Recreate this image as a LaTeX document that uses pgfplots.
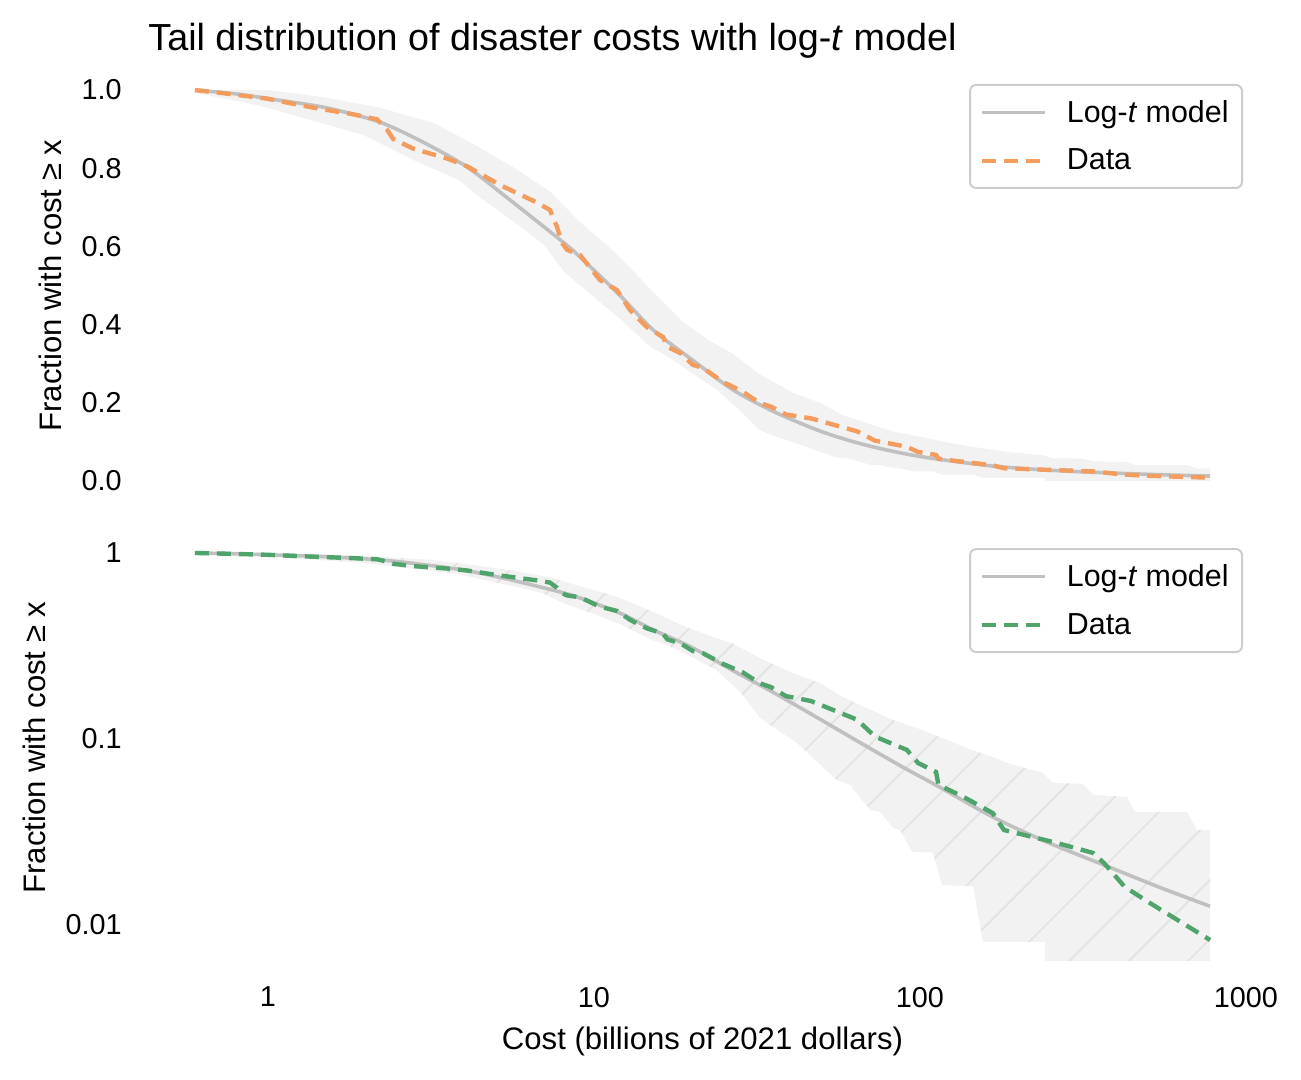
\documentclass[border=0pt]{standalone}
\usepackage{fontspec}
\setmainfont{Liberation Sans}
\usepackage{pgfplots}
\usepackage{pgfplotstable}
\pgfplotsset{compat=1.18}
\usepgfplotslibrary{fillbetween}
\usetikzlibrary{patterns.meta}

\definecolor{modelgray}{HTML}{C0C0C0}
\definecolor{dataorange}{HTML}{F39C5E}
\definecolor{datagreen}{HTML}{4FA46C}
\definecolor{bandgray}{HTML}{F2F2F2}
\definecolor{hatchgray}{HTML}{E3E3E3}
\definecolor{legendgray}{HTML}{CCCCCC}

\pgfplotstableread{
x y
0.597 1.0
0.727 0.992
0.993 0.978
1.374 0.955
1.823 0.938
2.16 0.925
2.32 0.898
2.42 0.875
2.79 0.850
3.54 0.825
4.08 0.805
5.15 0.757
6.69 0.712
7.33 0.693
7.70 0.650
7.98 0.609
8.27 0.591
9.06 0.578
10.43 0.514
11.77 0.488
12.9 0.437
14.5 0.394
16.3 0.368
16.8 0.343
18.4 0.327
20.1 0.297
21.6 0.289
24.9 0.253
28.6 0.228
32.3 0.199
34.9 0.190
38.8 0.170
46.3 0.160
64.1 0.127
72.8 0.103
91.2 0.0873
98.6 0.0743
112 0.0665
114 0.0566
136 0.0488
167 0.040
181 0.0324
263 0.0276
339 0.0244
367 0.0215
425 0.0160
508 0.0131
776 0.0083
}\datatab

\pgfplotstableread{
x y
0.597 1.0
0.8 0.99
1.0 0.978
1.5 0.955
2.2 0.918
3.0 0.866
4.08 0.803
5.5 0.72
7.9 0.616
9.06 0.573
12 0.475
15.2 0.386
20 0.31
26.7 0.233
35.9 0.176
50 0.126
67.2 0.0931
90 0.0695
114 0.0555
170 0.0375
250 0.0275
367 0.0210
550 0.0158
776 0.0126
}\modeltab

\pgfplotstableread{
x y
0.597 1.0
1.0 1.0
1.475 0.982
2.2 0.955
3.21 0.916
4.16 0.867
5.64 0.803
7.33 0.740
9.06 0.662
10.9 0.605
12.6 0.555
15.5 0.475
18.7 0.407
22.5 0.36
26.7 0.325
32.3 0.2725
40.7 0.226
49.3 0.200
58.0 0.168
82.7 0.1265
97.9 0.1146
121 0.0988
139 0.0895
167 0.080
185 0.0743
238 0.0657
256 0.058
316 0.0573
340 0.050
432 0.0488
457 0.0405
660 0.0405
707 0.0324
776 0.0324
}\bandup

\pgfplotstableread{
x y
0.597 0.993
0.945 0.960
1.96 0.885
2.79 0.821
3.85 0.77
4.47 0.725
5.81 0.657
7.0 0.605
8.1 0.535
10 0.47
12.0 0.415
14.8 0.345
17.1 0.315
20 0.275
23.7 0.235
28 0.18
32.3 0.130
35.4 0.116
42.0 0.095
55.6 0.060
61.0 0.0566
70.3 0.0415
75.4 0.0405
82.7 0.0332
86.8 0.0324
94.5 0.0247
109.6 0.0245
116.7 0.0164
145.6 0.0161
156 0.0081
241.6 0.0081
242 0.0001
776 0.0001
}\bandlo

\begin{document}
\begin{tikzpicture}

\node[anchor=base west, inner sep=0pt, font=\fontsize{18.85}{22}\selectfont] at (74pt,514.5pt)
  {Tail distribution of disaster costs with log-\textit{t} model};

% top panel
\begin{axis}[
  scale only axis,
  width=558.5pt, height=215pt,
  at={(72pt,289.75pt)}, anchor=south west,
  xmode=log,
  xmin=0.4165, xmax=1112,
  ymin=-0.05, ymax=1.05,
  axis line style={draw=none},
  major tick length=0pt,
  minor tick length=0pt,
  tick label style={font=\fontsize{14.4}{16}\selectfont},
  yticklabel style={inner sep=0pt, xshift=-11pt},
  xtick=\empty,
  ytick={0,0.2,0.4,0.6,0.8,1.0},
  yticklabels={0.0,0.2,0.4,0.6,0.8,1.0},
  ylabel={Fraction with cost ≥ x},
  every axis y label/.style={at={(rel axis cs:0,0.5)}, rotate=90, anchor=center, yshift=47pt,
      font=\fontsize{15.55}{18}\selectfont},
  legend cell align=left,
  legend image code/.code={\draw[#1] (0pt,0pt) -- (31.5pt,0pt);},
  legend style={at={(0.9839,0.9686)}, anchor=north east, draw=legendgray, line width=1pt,
      rounded corners=3pt, font=\fontsize{15.2}{18}\selectfont,
      inner xsep=4.75pt, inner ysep=5.5pt, row sep=8pt,
      /tikz/every odd column/.append style={column sep=8pt}},
]
\addplot[name path=upA, draw=none, forget plot] table[x=x,y=y] {\bandup};
\addplot[name path=loA, draw=none, forget plot] table[x=x,y=y] {\bandlo};
\addplot[fill=bandgray, draw=none, forget plot] fill between[of=upA and loA];
\addplot[modelgray, line width=1.8pt, smooth] table[x=x,y=y] {\modeltab};
\addlegendentry{Log-\textit{t} model}
\addplot[dataorange, line width=2.2pt, dash pattern=on 7pt off 4pt] table[x=x,y=y] {\datatab};
\addlegendentry{Data}
\end{axis}

% bottom panel
\begin{axis}[
  scale only axis,
  width=558.5pt, height=213.5pt,
  at={(72pt,59.5pt)}, anchor=south west,
  xmode=log, ymode=log,
  xmin=0.4165, xmax=1112,
  ymin=0.0064, ymax=1.265,
  axis line style={draw=none},
  major tick length=0pt,
  minor tick length=0pt,
  tick label style={font=\fontsize{14.4}{16}\selectfont},
  yticklabel style={inner sep=0pt, xshift=-11pt},
  xticklabel style={inner sep=0pt, yshift=-12.8pt},
  xtick={1,10,100,1000},
  xticklabels={1,10,100,1000},
  ytick={0.01,0.1,1},
  yticklabels={0.01,0.1,1},
  ylabel={Fraction with cost ≥ x},
  every axis y label/.style={at={(rel axis cs:0,0.5)}, rotate=90, anchor=center, yshift=54.75pt,
      font=\fontsize{15.55}{18}\selectfont},
  xlabel={Cost (billions of 2021 dollars)},
  every axis x label/.style={at={(rel axis cs:0.5,0)}, anchor=center, yshift=-40pt,
      font=\fontsize{15.55}{18}\selectfont},
  legend cell align=left,
  legend image code/.code={\draw[#1] (0pt,0pt) -- (31.5pt,0pt);},
  legend style={at={(0.9839,0.967)}, anchor=north east, draw=legendgray, line width=1pt,
      rounded corners=3pt, font=\fontsize{15.2}{18}\selectfont,
      inner xsep=4.75pt, inner ysep=5.5pt, row sep=8pt,
      /tikz/every odd column/.append style={column sep=8pt}},
]
\addplot[name path=upB, draw=none, forget plot] table[x=x,y=y] {\bandup};
\addplot[name path=loB, draw=none, forget plot] table[x=x,y=y] {\bandlo};
\addplot[fill=bandgray, draw=none, forget plot] fill between[of=upB and loB];
\addplot[draw=none, forget plot, pattern={Lines[angle=45, distance=21pt, line width=0.9pt]}, pattern color=hatchgray] fill between[of=upB and loB];
\addplot[modelgray, line width=1.8pt, smooth] table[x=x,y=y] {\modeltab};
\addlegendentry{Log-\textit{t} model}
\addplot[datagreen, line width=2.2pt, dash pattern=on 7pt off 4pt] table[x=x,y=y] {\datatab};
\addlegendentry{Data}
\end{axis}

\pgfresetboundingbox
\path[use as bounding box] (0,0) rectangle (650.5pt,540pt);
\end{tikzpicture}
\end{document}
